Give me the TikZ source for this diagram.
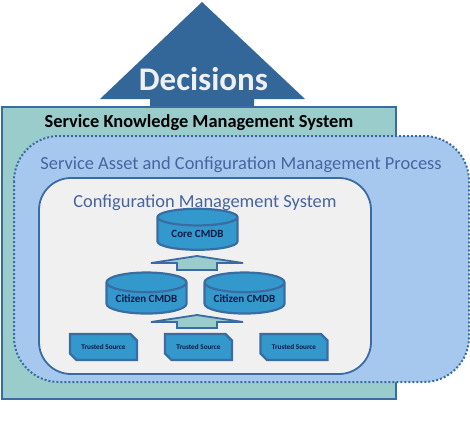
\documentclass[tikz,border=0pt]{standalone}
\usepackage{fontspec}
\setmainfont{Carlito}
\usetikzlibrary{positioning,shapes.geometric,shapes.misc}
\definecolor{BlueDark}{RGB}{51,102,153}
\definecolor{EdgeBlue}{RGB}{58,108,163}
\definecolor{TealFill}{RGB}{155,204,204}
\definecolor{ProcFill}{RGB}{166,200,238}
\definecolor{SysFill}{RGB}{240,240,240}
\definecolor{DbFill}{RGB}{51,153,204}
\definecolor{ProcText}{RGB}{70,100,160}
\definecolor{NavyText}{RGB}{15,25,70}
\tikzset{
  dbnode/.style={cylinder, shape border rotate=90, aspect=0.32, draw=EdgeBlue, line width=2.2pt,
    cylinder uses custom fill, cylinder body fill=DbFill, cylinder end fill=DbFill,
    minimum width=80pt, minimum height=41pt, inner sep=0pt, text=NavyText,
    font=\fontsize{11}{11}\selectfont\bfseries},
  srcnode/.style={chamfered rectangle, chamfered rectangle corners={north east,south west},
    chamfered rectangle xsep=4pt, chamfered rectangle ysep=4pt,
    draw=EdgeBlue, line width=2.4pt, fill=DbFill, minimum width=67pt, minimum height=26pt, inner sep=0pt,
    text=NavyText, font=\fontsize{7.2}{7.2}\selectfont\bfseries},
  uparrow/.style={fill=TealFill, draw=EdgeBlue, line width=1.8pt, line join=miter, miter limit=12}
}
\begin{document}
\begin{tikzpicture}[x=1pt,y=-1pt]
  \useasboundingbox (0,0) rectangle (470,420);
  % big arrow
  \fill[BlueDark] (202,2)--(305,99)--(254,99)--(254,108)--(150,108)--(150,99)--(100,99)--cycle;
  \node[text=SysFill, font=\fontsize{33}{33}\selectfont\bfseries] (decisions) at (203.5,79) {Decisions};
  % frames
  \draw[draw=EdgeBlue, fill=TealFill, line width=2pt] (2,107) rectangle (396,399);
  \draw[draw=EdgeBlue, fill=ProcFill, line width=2pt, dotted, rounded corners=45pt] (14,136) rectangle (469,382);
  \draw[draw=EdgeBlue, fill=SysFill, line width=1.8pt, rounded corners=32pt] (39,178) rectangle (371,374);
  % titles
  \node[text=black, font=\fontsize{18.4}{18.4}\selectfont\bfseries] (skms) at (199,123) {Service Knowledge Management System};
  \node[text=ProcText, font=\fontsize{18.4}{18.4}\selectfont] (sacm) at (241,164.5) {Service Asset and Configuration Management Process};
  \node[text=ProcText, font=\fontsize{18.4}{18.4}\selectfont] (cms) at (205,202.5) {Configuration Management System};
  % databases
  \node[dbnode] (core) at (197.5,234) {Core CMDB};
  \node[dbnode] (citizenA) at (146.5,298.5) {Citizen CMDB};
  \node[dbnode] (citizenB) at (244.5,298.5) {Citizen CMDB};
  % trusted sources
  \node[srcnode] (srcA) at (103.5,347) {Trusted Source};
  \node[srcnode] (srcB) at (198.5,347) {Trusted Source};
  \node[srcnode] (srcC) at (294,347) {Trusted Source};
  % small arrows
  \draw[uparrow] (197,256)--(243,263)--(217,263)--(217,270)--(177,270)--(177,263)--(151,263)--cycle;
  \draw[uparrow] (197,315)--(243,322)--(217,322)--(217,328)--(177,328)--(177,322)--(151,322)--cycle;
\end{tikzpicture}
\end{document}
